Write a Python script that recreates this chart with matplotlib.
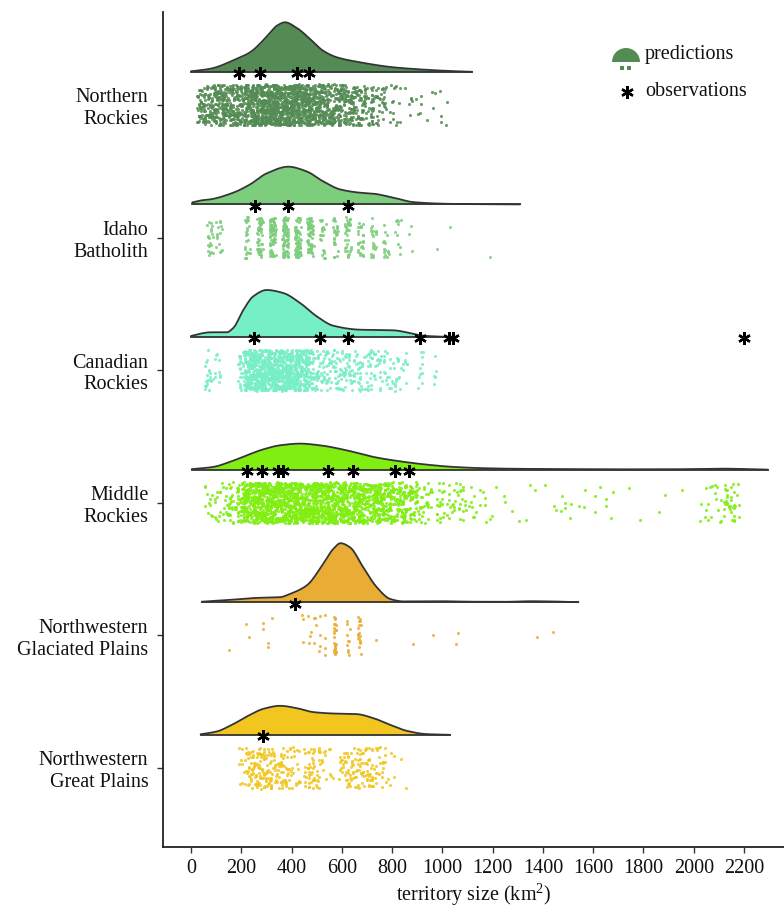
import numpy as np
import matplotlib
matplotlib.use("Agg")
import matplotlib.pyplot as plt
from matplotlib.patches import Wedge
from matplotlib.transforms import IdentityTransform

plt.rcParams["font.family"] = ["Liberation Serif", "DejaVu Serif"]
plt.rcParams["mathtext.fontset"] = "custom"
plt.rcParams["mathtext.rm"] = "Liberation Serif"
plt.rcParams["mathtext.it"] = "Liberation Serif:italic"

# ---------------------------------------------------------------- data
regions = ["Northern\nRockies", "Idaho\nBatholith", "Canadian\nRockies",
           "Middle\nRockies", "Northwestern\nGlaciated Plains",
           "Northwestern\nGreat Plains"]
fill_colors = ["#548B54", "#7CCD7C", "#76EEC6", "#7FEE10", "#E9AD35", "#F2C61F"]
x_ticks = [0, 200, 400, 600, 800, 1000, 1200, 1400, 1600, 1800, 2000, 2200]

# observed territory sizes (km2)
obs_northern = [190, 275, 420, 470]
obs_idaho = [255, 387, 626]
obs_canadian = [252, 513, 626, 911, 1028, 1044, 2200]
obs_middle = [222, 281, 347, 367, 546, 646, 811, 868]
obs_glaciated = [414]
obs_great = [288]

# density of predicted territory sizes: knots (km2) and relative density
dens_x_northern = [0, 76, 182, 235, 274, 314, 341, 374, 420, 473, 526, 580, 672, 805, 937, 1030, 1118]
dens_y_northern = [0.5, 3, 13, 19.5, 28, 39, 46, 49.5, 44, 33, 21, 14.5, 9.5, 4.5, 2, 0.8, 0]
dens_x_idaho = [5, 40, 76, 168, 235, 301, 387, 460, 526, 593, 672, 726, 805, 884, 1003, 1100, 1309]
dens_y_idaho = [2, 4, 5, 11.7, 20, 31, 37.7, 33, 23, 15, 11.7, 10.7, 6.7, 2.3, 0.7, 0.3, 0]
dens_x_canadian = [0, 40, 76, 142, 168, 208, 248, 301, 367, 434, 500, 566, 672, 805, 871, 924, 980, 1045]
dens_y_canadian = [1, 3.5, 4.7, 4.7, 9, 27, 40.7, 47, 44, 34, 20.7, 11.3, 7.3, 6.7, 4, 1.3, 0.5, 0]
dens_x_middle = [3, 89, 155, 222, 288, 354, 434, 513, 619, 725, 831, 937, 1043, 1150, 1300, 1500, 1700, 1900, 2000, 2100, 2200, 2295]
dens_y_middle = [0.5, 2.7, 7.7, 14.3, 20.3, 24.3, 26, 24.3, 19.3, 12.7, 8.3, 5, 2.7, 1.5, 0.8, 0.5, 0.3, 0.3, 0.6, 1, 0.6, 0]
dens_x_glaciated = [43, 155, 261, 354, 394, 460, 526, 566, 595, 632, 685, 739, 792, 845, 990, 1122, 1250, 1350, 1450, 1541]
dens_y_glaciated = [0.5, 2.3, 4.3, 5, 8.3, 16.7, 38.3, 53.3, 59, 55, 35, 15, 3.3, 0.8, 1, 0.5, 0.4, 1, 0.7, 0]
dens_x_great = [38, 102, 168, 235, 288, 354, 420, 487, 566, 659, 725, 792, 858, 937, 1030]
dens_y_great = [0.5, 3.3, 10.7, 20, 26, 29, 26.7, 22.7, 21.3, 20.7, 16.7, 10, 4, 0.7, 0]

# predicted territory sizes: bin centre (km2) and number of predictions
pred_x_northern = [50, 100, 150, 200, 250, 300, 350, 400, 450, 500, 550, 600, 650, 700, 750, 800, 850, 900, 950, 1000, 1040]
pred_n_northern = [80, 100, 110, 120, 150, 190, 200, 200, 180, 130, 110, 100, 80, 60, 35, 12, 8, 6, 4, 4, 1]
pred_x_idaho = [75, 110, 225, 275, 325, 375, 425, 475, 525, 575, 625, 675, 725, 775, 825, 875, 970, 1040, 1190]
pred_n_idaho = [20, 15, 25, 50, 70, 75, 70, 60, 20, 25, 35, 25, 20, 15, 10, 3, 1, 1, 1]
pred_x_canadian = [60, 75, 105, 200, 225, 250, 275, 300, 325, 350, 375, 400, 425, 450, 475, 500, 525, 550, 575, 600, 625, 650, 675, 700, 725, 750, 775, 800, 825, 850, 911, 963]
pred_n_canadian = [12, 8, 10, 25, 80, 90, 90, 90, 90, 90, 90, 80, 80, 70, 45, 25, 20, 20, 20, 20, 22, 16, 16, 16, 16, 14, 12, 10, 10, 8, 10, 5]
pred_x_middle = [75, 125, 175, 225, 275, 325, 375, 425, 475, 525, 575, 625, 675, 725, 775, 825, 875, 925, 975, 1025, 1070, 1125, 1180,
                 1229, 1301, 1329, 1348, 1415, 1460, 1480, 1500, 1535, 1560, 1600, 1635, 1655, 1700, 1734, 1794, 1853, 1893, 1953,
                 2040, 2080, 2110, 2140, 2160]
pred_n_middle = [15, 20, 45, 130, 150, 160, 160, 160, 150, 140, 140, 130, 120, 110, 100, 80, 60, 25, 20, 16, 20, 10, 6,
                 3, 2, 1, 2, 1, 2, 2, 3, 2, 2, 2, 2, 2, 1, 1, 1, 1, 1, 1,
                 5, 8, 10, 18, 12]
pred_x_glaciated = [149, 215, 235, 287, 302, 326, 446, 470, 490, 510, 530, 573, 626, 670, 732, 879, 963, 1058, 1380, 1436]
pred_n_glaciated = [1, 1, 1, 2, 2, 1, 3, 4, 4, 4, 4, 25, 10, 18, 1, 1, 1, 2, 1, 1]
pred_x_great = [200, 225, 250, 275, 300, 325, 350, 375, 400, 425, 460, 480, 500, 525, 560, 600, 625, 650, 675, 700, 725, 750, 775, 800, 830, 865]
pred_n_great = [8, 18, 26, 30, 30, 26, 22, 20, 14, 10, 14, 20, 18, 8, 5, 14, 20, 18, 20, 20, 18, 12, 7, 4, 1, 1]

observations = [obs_northern, obs_idaho, obs_canadian, obs_middle, obs_glaciated, obs_great]
dens_x = [dens_x_northern, dens_x_idaho, dens_x_canadian, dens_x_middle, dens_x_glaciated, dens_x_great]
dens_y = [dens_y_northern, dens_y_idaho, dens_y_canadian, dens_y_middle, dens_y_glaciated, dens_y_great]
pred_x = [pred_x_northern, pred_x_idaho, pred_x_canadian, pred_x_middle, pred_x_glaciated, pred_x_great]
pred_n = [pred_n_northern, pred_n_idaho, pred_n_canadian, pred_n_middle, pred_n_glaciated, pred_n_great]

# ---------------------------------------------------------------- helpers
def pchip(x, y, xn):
    """Shape-preserving cubic through the density knots."""
    x = np.asarray(x, float)
    y = np.asarray(y, float)
    h = np.diff(x)
    d = np.diff(y) / h
    m = np.zeros_like(y)
    for k in range(1, len(x) - 1):
        if d[k - 1] * d[k] > 0:
            w1 = 2 * h[k] + h[k - 1]
            w2 = h[k] + 2 * h[k - 1]
            m[k] = (w1 + w2) / (w1 / d[k - 1] + w2 / d[k])
    m[0] = d[0]
    m[-1] = d[-1]
    idx = np.clip(np.searchsorted(x, xn) - 1, 0, len(x) - 2)
    t = (xn - x[idx]) / h[idx]
    h00 = 2 * t**3 - 3 * t**2 + 1
    h10 = t**3 - 2 * t**2 + t
    h01 = -2 * t**3 + 3 * t**2
    h11 = t**3 - t**2
    return h00 * y[idx] + h10 * h[idx] * m[idx] + h01 * y[idx + 1] + h11 * h[idx] * m[idx + 1]


# ---------------------------------------------------------------- figure
W, H = 784, 909
fig = plt.figure(figsize=(W / 100, H / 100), dpi=100)
ax = fig.add_axes([163 / W, (H - 847) / H, (W - 163) / W, (847 - 12) / H])

dens_scale = 132.6          # relative density units per category row
cloud_offset = -0.25        # density baseline above the category position
rain_half = 0.155           # vertical spread of the prediction points
bin_width = [50, 25, 25, 50, 12, 25]
rng = np.random.default_rng(7)

for i in range(len(regions)):
    col = fill_colors[i]
    base = i + cloud_offset

    # rain: individual predictions, jittered around the category
    xs = np.repeat(np.asarray(pred_x[i], float), pred_n[i])
    xs = xs + rng.uniform(-bin_width[i] / 2, bin_width[i] / 2, xs.size)
    ys = i + rng.uniform(-rain_half, rain_half, xs.size)
    ax.scatter(xs, ys, s=5, color=col, alpha=0.85, linewidths=0, zorder=2)

    # cloud: half density
    gx = np.linspace(dens_x[i][0], dens_x[i][-1], 600)
    gy = np.clip(pchip(dens_x[i], dens_y[i], gx), 0, None) / dens_scale
    ax.fill_between(gx, base, base - gy, color=col, linewidth=0, zorder=3)
    ax.plot(gx, base - gy, color="#333333", lw=1.3, zorder=4, solid_capstyle="round")
    ax.plot([gx[0], gx[-1]], [base, base], color="#333333", lw=1.3, zorder=4)

    # observed territories
    ax.plot(observations[i], [base + 0.01] * len(observations[i]), ls="none",
            marker=(6, 2, 0), ms=9, mew=1.7, color="black", zorder=5)

ax.set_xlim(-111.4, 2359)
ax.set_ylim(5.596, -0.701)
ax.set_xticks(x_ticks)
ax.set_xticklabels([str(v) for v in x_ticks])
ax.set_yticks(range(len(regions)))
ax.set_yticklabels(regions, ha="right", multialignment="right")

for side in ("top", "right"):
    ax.spines[side].set_visible(False)
for side in ("left", "bottom"):
    ax.spines[side].set_linewidth(1.3)
    ax.spines[side].set_color("#222222")
ax.tick_params(axis="both", length=4.5, width=1.0, color="#333333",
               labelsize=14.5, labelcolor="#111111")
ax.tick_params(axis="y", pad=6)
ax.tick_params(axis="x", pad=4)
ax.set_xlabel(r"territory size (km$^2$)", fontsize=14.5, labelpad=3, color="#111111")

# legend drawn in pixel coordinates
pix = IdentityTransform()
fig.add_artist(Wedge((626, H - 62), 14, 0, 180, transform=pix,
                     facecolor=fill_colors[0], edgecolor="none"))
fig.add_artist(plt.Line2D([622, 629], [H - 68, H - 68], transform=pix, ls="none",
                          marker="s", ms=2.2, color=fill_colors[0], mew=0))
fig.add_artist(plt.Line2D([627], [H - 92], transform=pix, ls="none",
                          marker=(6, 2, 0), ms=9, mew=1.7, color="black"))
fig.text(645 / W, 1 - 55 / H, "predictions", fontsize=14.5, va="center", ha="left", color="#111111")
fig.text(645 / W, 1 - 91 / H, "observations", fontsize=14.5, va="center", ha="left", color="#111111")

fig.savefig("out.png", dpi=100)
